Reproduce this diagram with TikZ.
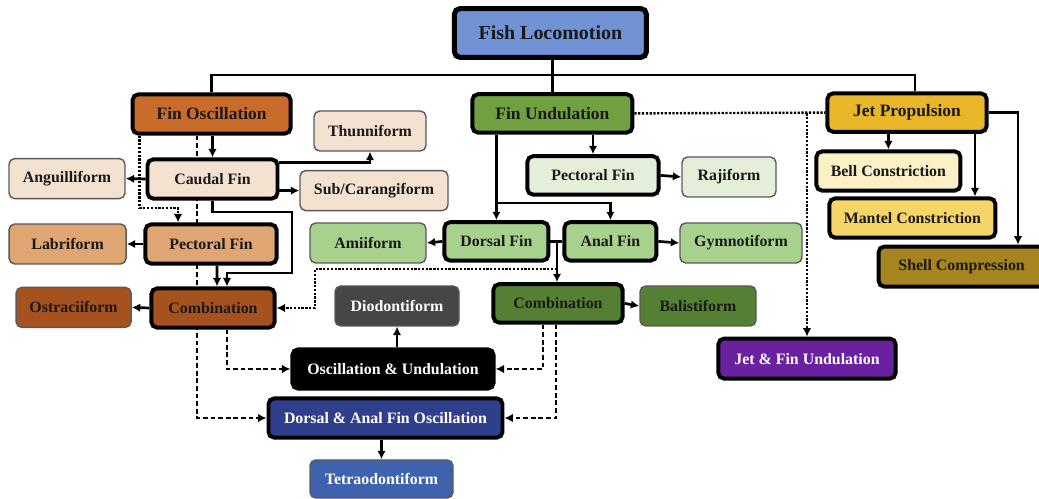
\documentclass[tikz,border=0pt]{standalone}
\usepackage{fontspec}
\setmainfont{Liberation Serif}
\usetikzlibrary{arrows.meta}
\pgfdeclarelayer{background}
\pgfsetlayers{background,main}
\definecolor{fishblue}{HTML}{7193D6}
\definecolor{oscorange}{HTML}{C86B2B}
\definecolor{caudbeige}{HTML}{F4E2D1}
\definecolor{pecttan}{HTML}{DFA572}
\definecolor{combbrown}{HTML}{A5521F}
\definecolor{undgreen}{HTML}{70A040}
\definecolor{palegreen}{HTML}{E3EFD9}
\definecolor{midgreen}{HTML}{A9D18E}
\definecolor{darkgreen}{HTML}{557F32}
\definecolor{jetgold}{HTML}{E9B62A}
\definecolor{bellpale}{HTML}{FCF0C6}
\definecolor{mantelgold}{HTML}{F5D567}
\definecolor{shellolive}{HTML}{A6841F}
\definecolor{jfupurple}{HTML}{6A21A0}
\definecolor{diodgray}{HTML}{464646}
\definecolor{dafonavy}{HTML}{2F3F8C}
\definecolor{tetrablue}{HTML}{3F62AE}

\begin{document}
\begin{tikzpicture}[font=\bfseries\fontsize{11.3}{13}\selectfont,
  catbox/.style={rounded corners=4pt,draw=black,line width=2.8pt,minimum height=1.05cm,inner sep=0pt,align=center,text=black!90},
  leaf/.style={rounded corners=4pt,draw=black!65,line width=1pt,minimum height=1cm,inner sep=0pt,align=center,text=black!90},
  rootbox/.style={catbox,line width=3.6pt,font=\bfseries\fontsize{14.2}{16}\selectfont},
  headbox/.style={catbox,font=\bfseries\fontsize{12.4}{14}\selectfont},
  link/.style={line width=1.9pt},
  arr/.style={link,-{Latex[length=6pt,width=6pt]}},
  dotarr/.style={line width=1.7pt,dash pattern=on 1.6pt off 1.1pt,-{Latex[length=6pt,width=6pt]}},
  dasharr/.style={line width=1.5pt,dash pattern=on 3.4pt off 2pt,-{Latex[length=6pt,width=6pt]}}]
  \useasboundingbox (0,0) rectangle (25.975,12.475);
  % top levels
  \node[rootbox,fill=fishblue,minimum width=4.8cm,minimum height=1.22cm] (fish) at (13.76,11.65) {Fish Locomotion};
  \node[headbox,fill=oscorange,minimum width=3.95cm,minimum height=0.98cm] (finosc) at (5.29,9.625) {Fin Oscillation};
  \node[headbox,fill=undgreen,minimum width=4cm,minimum height=0.96cm] (finund) at (13.81,9.64) {Fin Undulation};
  \node[headbox,fill=jetgold,minimum width=3.98cm,minimum height=0.96cm] (jet) at (22.675,9.66) {Jet Propulsion};
  % fin oscillation branch
  \node[leaf,fill=caudbeige,minimum width=2.8cm] (thunni) at (9.25,9.2) {Thunniform};
  \node[catbox,fill=caudbeige,minimum width=3.25cm,minimum height=0.98cm] (caudal) at (5.3125,8.0) {Caudal Fin};
  \node[leaf,fill=caudbeige,minimum width=2.9cm] (anguil) at (1.675,8.01) {Anguilliform};
  \node[leaf,fill=caudbeige,minimum width=3.7cm] (subcar) at (9.35,7.71) {Sub/Carangiform};
  \node[leaf,fill=pecttan,minimum width=2.925cm] (labri) at (1.69,6.375) {Labriform};
  \node[catbox,fill=pecttan,minimum width=3.28cm,minimum height=0.98cm] (pectb) at (5.275,6.375) {Pectoral Fin};
  \node[leaf,fill=combbrown,minimum width=2.875cm] (ostra) at (1.84,4.79) {Ostraciiform};
  \node[catbox,fill=combbrown,minimum width=3.08cm,minimum height=0.98cm] (combo) at (5.325,4.775) {Combination};
  % shared modes
  \node[leaf,fill=diodgray,text=white,minimum width=3.1cm] (diodon) at (9.925,4.825) {Diodontiform};
  \node[catbox,fill=black,text=white,minimum width=5.03cm,minimum height=0.98cm] (ou) at (9.825,3.25) {Oscillation \& Undulation};
  \node[catbox,fill=dafonavy,text=white,minimum width=5.85cm,minimum height=0.98cm] (dafo) at (9.6375,2.025) {Dorsal \& Anal Fin Oscillation};
  \node[leaf,fill=tetrablue,text=white,minimum width=3.575cm,minimum height=0.95cm] (tetra) at (9.5375,0.5) {Tetraodontiform};
  % fin undulation branch
  \node[catbox,fill=palegreen,minimum width=3.28cm,minimum height=0.96cm] (pectg) at (14.825,8.09) {Pectoral Fin};
  \node[leaf,fill=palegreen,minimum width=2.35cm] (raji) at (18.225,8.05) {Rajiform};
  \node[leaf,fill=midgreen,minimum width=2.9cm] (amii) at (9.2,6.4) {Amiiform};
  \node[catbox,fill=midgreen,minimum width=2.6cm,minimum height=0.96cm] (dorsal) at (12.41,6.44) {Dorsal Fin};
  \node[catbox,fill=midgreen,minimum width=2.3cm,minimum height=0.96cm] (anal) at (15.26,6.44) {Anal Fin};
  \node[leaf,fill=midgreen,minimum width=3.05cm] (gymno) at (18.525,6.4) {Gymnotiform};
  \node[catbox,fill=darkgreen,minimum width=3.23cm,minimum height=0.96cm] (combg) at (13.95,4.89) {Combination};
  \node[leaf,fill=darkgreen,minimum width=2.9cm] (balis) at (17.45,4.825) {Balistiform};
  % jet propulsion branch
  \node[catbox,fill=bellpale,minimum width=3.6cm,minimum height=0.98cm] (bell) at (22.21,8.2) {Bell Constriction};
  \node[catbox,fill=mantelgold,minimum width=4.15cm,minimum height=0.98cm] (mantel) at (22.81,7.025) {Mantel Constriction};
  \node[catbox,fill=shellolive,minimum width=4.15cm,minimum height=1cm] (shell) at (24.04,5.81) {Shell Compression};
  \node[catbox,fill=jfupurple,text=white,minimum width=4.43cm,minimum height=1cm] (jfu) at (20.175,3.51) {Jet \& Fin Undulation};
  % connectors
  \draw[link] (fish.south -| finund.north) -- (finund.north);
  \draw[link] (finosc.north) |- (13.81,10.6) -| ([xshift=0.2cm]jet.north);
  \draw[arr] (finosc.south -| caudal.north) -- (caudal.north);
  \draw[arr] (caudal.west) -- (anguil.east);
  \draw[arr] ([yshift=-0.125cm]caudal.north east) -| (thunni.south);
  \draw[arr] (caudal.east |- subcar.west) -- (subcar.west);
  \draw[arr] (caudal.south) |- (7.3,7.175) -- (7.3,5.65) -| ([xshift=0.35cm]combo.north);
  \draw[arr] ([xshift=0.15cm]pectb.south) -- ([xshift=0.1cm]combo.north);
  \draw[arr] (pectb.west) -- (labri.east);
  \draw[arr] (combo.west) -- (ostra.east);
  \draw[dotarr] ([xshift=0.225cm]finosc.south west) |- (4.45,7.275) -- ([xshift=-0.825cm]pectb.north);
  \begin{pgfonlayer}{background}
    \draw[dasharr] ([xshift=-0.365cm]finosc.south) |- (dafo.west);
  \end{pgfonlayer}
  \draw[dasharr] ([xshift=0.35cm]combo.south) |- (ou.west);
  \draw[arr] (finund.south -| dorsal.north) -- (dorsal.north);
  \draw[arr] (12.41,7.4) -| (anal.north);
  \draw[arr] (finund.south -| pectg.north) -- (pectg.north);
  \draw[arr] (pectg.east) -- (raji.west);
  \draw[arr] (dorsal.west) -- (amii.east);
  \draw[arr] (anal.east) -- (gymno.west);
  \coordinate (dajoin) at (13.925,6.44);
  \draw[link] (dorsal.east) -- (anal.west);
  \draw[arr] (dajoin) -- (dajoin |- combg.north);
  \draw[dotarr] ([yshift=-0.69cm]dajoin) -- (7.875,5.75) |- (combo.east);
  \draw[arr] (combg.east) -- (balis.west);
  \draw[dasharr] ([xshift=-0.375cm]combg.south) |- (ou.east);
  \draw[dasharr] ([xshift=-0.05cm]combg.south) |- (dafo.east);
  \draw[arr] (ou.north -| diodon.south) -- (diodon.south);
  \draw[arr] (dafo.south -| tetra.north) -- (tetra.north);
  \draw[line width=1.7pt,dash pattern=on 1.6pt off 1.1pt] (finund.east) -- (jet.west);
  \draw[dotarr] (finund.east -| jfu.north) -- (jfu.north);
  \draw[arr] (jet.south -| bell.north) -- (bell.north);
  \draw[arr] ([xshift=1.7cm]jet.south) -- ([xshift=1.565cm]mantel.north);
  \draw[arr] (jet.east) -| ([xshift=1.41cm]shell.north);
\end{tikzpicture}
\end{document}
